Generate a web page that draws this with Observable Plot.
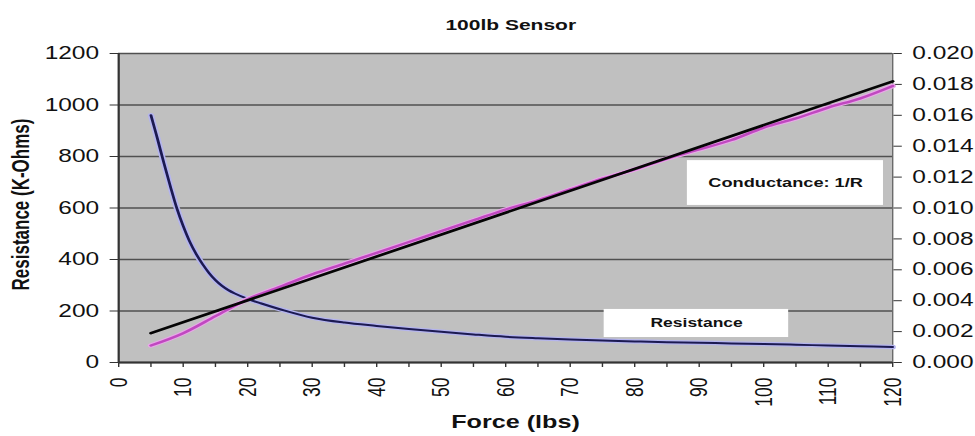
<!DOCTYPE html>
<html>
<head>
<meta charset="utf-8">
<script src="https://cdn.jsdelivr.net/npm/d3@7"></script>
<script src="https://cdn.jsdelivr.net/npm/@observablehq/plot@0.6"></script>
<style>
  body { margin: 0; background: #fff; }
</style>
</head>
<body>
<div id="chart"></div>
<script>
// Measured resistance of the 100 lb force sensor (K-Ohms) versus applied force (lbs)
const forceR = [5, 6, 7, 8, 9, 10, 11, 12, 13, 14, 15, 16, 17, 18, 20, 22, 25, 30, 35, 40, 45, 50, 55, 60, 65, 70, 75, 80, 85, 90, 95, 100, 105, 110, 115, 120];
const resistanceK = [960, 870, 775, 685, 600, 530, 470, 422, 382, 348, 320, 298, 281, 268, 247, 230, 207, 174, 155, 142, 130, 119, 109, 100, 94, 89, 85, 82, 79, 77, 74, 72, 69, 66, 63, 60];

// Conductance 1/R (right axis)
const forceC = [5, 10, 15, 20, 25, 30, 35, 40, 45, 50, 55, 60, 65, 70, 75, 80, 85, 90, 95, 100, 105, 110, 115, 120];
const conductance = [0.0011, 0.0019, 0.0030, 0.0041, 0.0049, 0.0057, 0.0064, 0.0071, 0.0078, 0.0085, 0.0092, 0.0099, 0.0105, 0.0112, 0.0119, 0.0125, 0.0132, 0.0138, 0.0144, 0.0152, 0.0158, 0.0165, 0.0171, 0.0179];

// Linear fit of the conductance
const trendForce = [5, 120];
const trendConductance = [0.0019, 0.0182];

// Axis ticks
const forceTicks = [0, 10, 20, 30, 40, 50, 60, 70, 80, 90, 100, 110, 120];
const forceMinorTicks = [0, 5, 10, 15, 20, 25, 30, 35, 40, 45, 50, 55, 60, 65, 70, 75, 80, 85, 90, 95, 100, 105, 110, 115, 120];
const resistanceTicks = [0, 200, 400, 600, 800, 1000, 1200];
const conductanceTicks = [0, 0.002, 0.004, 0.006, 0.008, 0.010, 0.012, 0.014, 0.016, 0.018, 0.020];

// Series labels shown in white boxes inside the plot
const seriesNames = ["Conductance: 1/R", "Resistance"];

const title = "100lb Sensor";
const xTitle = "Force (lbs)";
const yTitle = "Resistance (K-Ohms)";

// Conductance shares the resistance scale: 0.020 maps to 1200
const K = 1200 / 0.020;

// The chart is laid out narrow and stretched horizontally to the page width
const SX = 1.4;
const W = 975 / SX;
const left = 118 / SX;
const right = 892 / SX;

const resData = forceR.map((f, i) => ({force: f, r: resistanceK[i]}));
const condData = forceC.map((f, i) => ({force: f, c: conductance[i]}));
const trendData = trendForce.map((f, i) => ({force: f, c: trendConductance[i]}));

const notes = [
  {text: seriesNames[0], x1: 88.2, x2: 118.6, y1: 610, y2: 784, size: 13},
  {text: seriesNames[1], x1: 75.3, x2: 103.9, y1: 97, y2: 206, size: 12.5}
];

const font = "'Liberation Sans', Arial, Helvetica, sans-serif";

const svg = Plot.plot({
  width: W,
  height: 436,
  marginLeft: left,
  marginRight: W - right,
  marginTop: 53,
  marginBottom: 74,
  style: {fontFamily: font, fontSize: "17.5px", color: "#111", background: "#fff", overflow: "visible"},
  x: {domain: [0, 120], label: null},
  y: {domain: [0, 1200], label: null},
  marks: [
    Plot.frame({fill: "#c0c0c0", stroke: null}),
    Plot.gridY(resistanceTicks, {stroke: "#505050", strokeOpacity: 1, strokeWidth: 1.6}),
    Plot.ruleX([120], {stroke: "#6a6a6a", strokeWidth: 1}),
    Plot.ruleX([0], {stroke: "#333", strokeWidth: 1.6}),
    Plot.ruleY([0], {stroke: "#333", strokeWidth: 2}),

    // bottom axis: ticks every 5, labels every 10
    Plot.axisX(forceMinorTicks, {tickSize: 5, tickFormat: () => "", stroke: "#333", label: null}),
    Plot.axisX(forceTicks, {tickSize: 0, tickPadding: 15, tickRotate: -90, tickFormat: d => String(d), label: null}),

    // left axis: resistance
    Plot.axisY(resistanceTicks, {anchor: "left", tickSize: 6, tickPadding: 8, stroke: "#333",
      tickFormat: d => String(d), label: null}),
    // right axis: conductance
    Plot.axisY(conductanceTicks.map(c => c * K), {
      anchor: "right", tickSize: 6, tickPadding: 8, stroke: "#333", label: null,
      tickFormat: d => (d / K).toFixed(3)
    }),

    // resistance curve with its light halo
    Plot.line(resData, {x: "force", y: "r", stroke: "#b4b4ee", strokeWidth: 4.5, curve: "catmull-rom"}),
    Plot.line(resData, {x: "force", y: "r", stroke: "#1c1a52", strokeWidth: 2, curve: "catmull-rom"}),

    // conductance curve
    Plot.line(condData, {x: "force", y: d => d.c * K, stroke: "#e8a8e8", strokeWidth: 4.5, curve: "catmull-rom"}),
    Plot.line(condData, {x: "force", y: d => d.c * K, stroke: "#c048c0", strokeWidth: 2.4, curve: "catmull-rom"}),

    // linear fit
    Plot.line(trendData, {x: "force", y: d => d.c * K, stroke: "#050505", strokeWidth: 2.6}),

    // series label boxes
    Plot.rect(notes, {x1: "x1", x2: "x2", y1: "y1", y2: "y2", fill: "#fff"}),
    Plot.text(notes, {
      x: d => (d.x1 + d.x2) / 2, y: d => (d.y1 + d.y2) / 2, text: "text",
      fontWeight: "bold", fontSize: d => d.size, fill: "#111"
    }),

    // titles
    Plot.text([title], {text: d => d, frameAnchor: "top", textAnchor: "middle", lineAnchor: "middle",
      dy: -28, dx: 3.6, fontWeight: "bold", fontSize: 15, fill: "#111"}),
    Plot.text([xTitle], {text: d => d, frameAnchor: "bottom", textAnchor: "middle", lineAnchor: "middle",
      dy: 60, dx: 7, fontWeight: "bold", fontSize: 18, fill: "#111"}),
    Plot.text([yTitle], {text: d => d, frameAnchor: "left", textAnchor: "middle", lineAnchor: "middle",
      dx: -(left - 15), dy: -3.5, rotate: -90, fontWeight: "bold", fontSize: 17, fill: "#111"})
  ]
});

// stretch horizontally to the full page width
svg.setAttribute("width", 975);
svg.setAttribute("height", 436);
svg.setAttribute("preserveAspectRatio", "none");
svg.style.width = "975px";
svg.style.height = "436px";
svg.style.maxWidth = "none";

document.getElementById("chart").append(svg);
</script>
</body>
</html>
